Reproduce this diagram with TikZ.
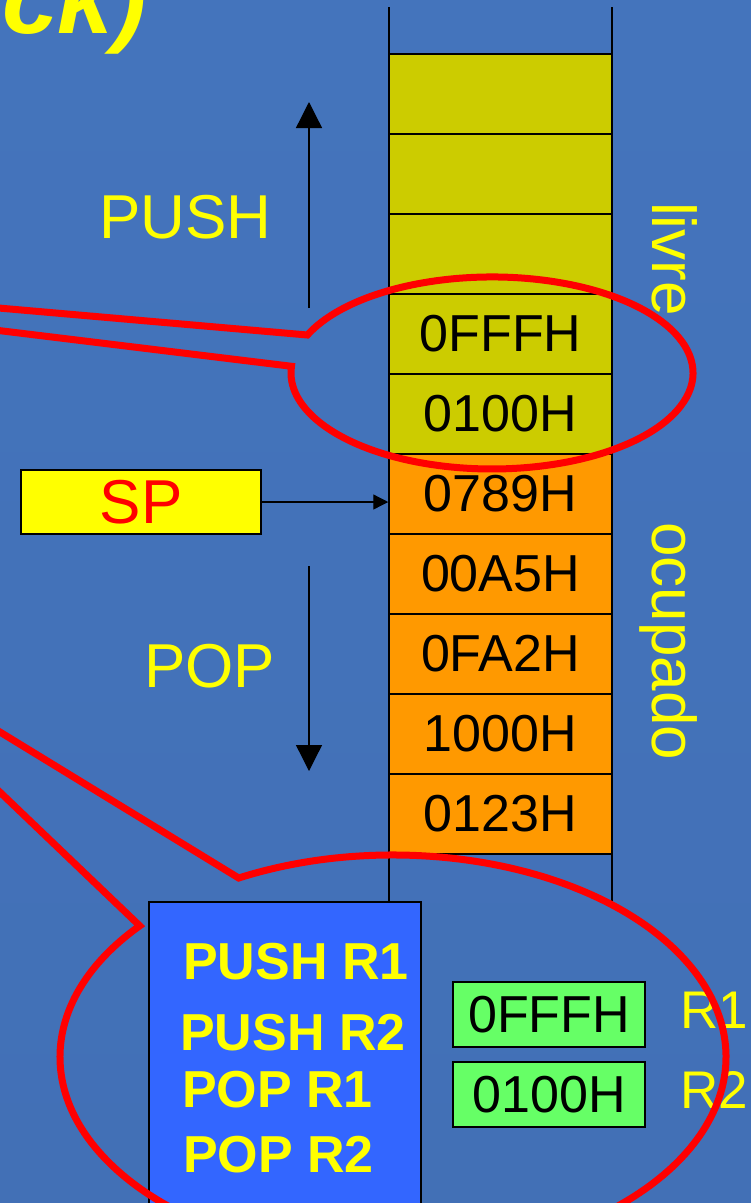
\documentclass[tikz,border=0pt]{standalone}
\usepackage{fontspec}
\setmainfont{Liberation Sans}
\usetikzlibrary{arrows.meta}

\definecolor{livre}{RGB}{204,204,0}
\definecolor{ocupado}{RGB}{255,153,0}
\definecolor{amarelo}{RGB}{255,255,0}
\definecolor{azul}{RGB}{51,102,255}
\definecolor{verde}{RGB}{102,255,102}
\definecolor{fundoA}{RGB}{68,116,188}
\definecolor{fundoB}{RGB}{92,156,255}
\definecolor{fundoC}{RGB}{66,112,182}

\begin{document}
\begin{tikzpicture}[x=1pt, y=-1pt,
	lv/.style = {rectangle, draw=black, fill=livre, line width=1.5pt, minimum width=223pt, minimum height=80pt, inner sep=0pt, font=\fontsize{52}{60}\selectfont},
	oc/.style = {lv, fill=ocupado},
	sp/.style = {rectangle, draw=black, fill=amarelo, text=red, line width=1.5pt, minimum width=240pt, minimum height=64pt, inner sep=0pt, font=\fontsize{62}{70}\selectfont},
	cmd/.style = {rectangle, draw=black, fill=azul, line width=1.5pt, minimum width=272pt, minimum height=330pt},
	reg/.style = {rectangle, draw=black, fill=verde, line width=1.5pt, minimum width=192pt, minimum height=65pt, inner sep=0pt, font=\fontsize{52}{60}\selectfont},
	t/.style = {text=amarelo, inner sep=0pt, anchor=base west, font=\fontsize{62}{70}\selectfont},
	ct/.style = {t, font=\bfseries\fontsize{52}{60}\selectfont},
	rn/.style = {t, font=\fontsize{53}{60}\selectfont},
	wall/.style = {line width=1.5pt},
	r/.style = {-{Triangle[width=26pt, length=26pt]}, line width=1.3pt},
	rs/.style = {-{Triangle[width=15pt, length=15pt]}, line width=1.3pt},
	!/.style = {draw=red, line width=7pt, line join=miter}
	]
	
	\useasboundingbox (0, 0) rectangle (751, 1203);
	\clip (0, 0) rectangle (751, 1203);
	\shade[top color=fundoA, middle color=fundoB, bottom color=fundoC] (0, 0) rectangle (751, 1203);
	
	%Title
	\node[t, font=\bfseries\itshape\fontsize{100}{110}\selectfont] (tit) at (2, 33) {ck)};
	
	%Nodes
	\node[cmd]	(cmd)	at	(285, 1067)	{};
	\coordinate (w1) at (389, 7);
	\coordinate (w2) at (612, 7);
	\draw[wall] (w1) -- (w1 |- cmd.north);
	\draw[wall] (w2) -- (w2 |- cmd.north);
	
	\node[lv]	(v1)	at	(500.5, 94)	{};
	\node[lv]	(v2)	at	(500.5, 174)	{};
	\node[lv]	(v3)	at	(500.5, 254)	{};
	\node[lv]	(v4)	at	(500.5, 334)	{0FFFH};
	\node[lv]	(v5)	at	(500.5, 414)	{0100H};
	\node[oc]	(o1)	at	(500.5, 494)	{0789H};
	\node[oc]	(o2)	at	(500.5, 574)	{00A5H};
	\node[oc]	(o3)	at	(500.5, 654)	{0FA2H};
	\node[oc]	(o4)	at	(500.5, 734)	{1000H};
	\node[oc]	(o5)	at	(500.5, 814)	{0123H};
	
	\node[t]	(push)	at	(99, 238)	{PUSH};
	\node[t]	(pop)	at	(144, 687)	{POP};
	\node[t, rotate=-90]	(livre)	at	(652, 202)	{livre};
	\node[t, rotate=-90]	(ocup)	at	(652, 522)	{ocupado};
	\node[sp]	(sp)	at	(141, 502)	{SP};
	
	\node[ct]	(i1)	at	(183, 979)	{PUSH R1};
	\node[ct]	(i2)	at	(180, 1050)	{PUSH R2};
	\node[ct]	(i3)	at	(182, 1107)	{POP R1};
	\node[ct]	(i4)	at	(183, 1172)	{POP R2};
	
	\node[reg]	(r1)	at	(549, 1014.5)	{0FFFH};
	\node[reg]	(r2)	at	(549, 1094.5)	{0100H};
	\node[rn]	(n1)	at	(680, 1028)	{R1};
	\node[rn]	(n2)	at	(680, 1108)	{R2};
	
	%Lines
	\coordinate (p1) at (309, 308);
	\coordinate (p2) at (309, 102);
	\coordinate (q1) at (309, 566);
	\coordinate (q2) at (309, 771);
	\draw[r]	(p1) -- (p2);
	\draw[r]	(q1) -- (q2);
	\draw[rs]	(sp.east) -- (sp.east -| o1.west);
	
	%Callouts
	\draw[!] (-30, 305.5) -- (307.4, 335) arc[start angle=203.3, end angle=544, x radius=201, y radius=96] -- (-30, 327);
	\draw[!] (-30, 713.7) -- (238.7, 878) arc[start angle=242.4, end angle=580.5, x radius=333, y radius=202] -- (-30, 763.5);
\end{tikzpicture}
\end{document}
